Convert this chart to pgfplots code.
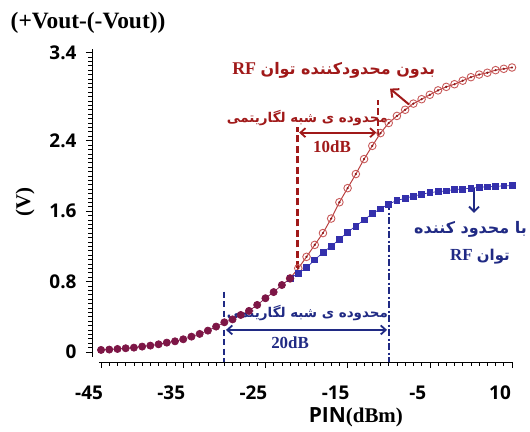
\documentclass[border=0pt]{standalone}
\usepackage{fontspec}
\usepackage{pgfplots}
\pgfplotsset{compat=1.18}
\usetikzlibrary{arrows.meta}
\setmainfont{Liberation Serif}
\newfontfamily\tickfont{Open Sans}
\newfontfamily\arabicfont[Script=Arabic]{DejaVu Sans}
\TeXXeTstate=1
\definecolor{maroonc}{RGB}{125,22,70}
\definecolor{redline}{RGB}{185,65,65}
\definecolor{redmark}{RGB}{200,90,90}
\definecolor{redfill}{RGB}{246,218,218}
\definecolor{reddot}{RGB}{140,25,25}
\definecolor{bluec}{RGB}{52,48,172}
\definecolor{darkred}{RGB}{160,25,25}
\definecolor{navyc}{RGB}{32,42,132}
\begin{document}
\begin{tikzpicture}
\begin{axis}[
 at={(0,0)}, anchor=south west,
 scale only axis, width=420bp, height=313bp,
 xmin=-46.1, xmax=5, ymin=-0.114, ymax=3.44,
 axis x line*=bottom, axis y line*=left,
 x axis line style={-, shorten <=7bp, line width=0.9pt},
 y axis line style={-, shorten <=5bp, line width=0.9pt},
 tick align=outside,
 major tick length=6bp, minor tick length=3.5bp,
 xtick={-45,-35,-25,-15,-5,5}, xticklabels={-45,-35,-25,-15,-5,10},
 minor xtick={-45,-44,...,5},
 ytick={0,0.8,1.6,2.4,3.4}, yticklabels={0,0.8,1.6,2.4,3.4},
 minor ytick={0,0.05,...,3.4},
 tick style={black, line width=0.6pt},
 ticklabel style={font=\tickfont\bfseries\fontsize{19}{19}\selectfont},
 xticklabel style={xshift=-12bp, yshift=-14bp},
 yticklabel style={xshift=-6bp},
 clip=false,
]
% red series (without limiter)
\addplot[redline, line width=1pt, mark=o, mark size=3.8bp, mark options={draw=redmark, fill=redfill, line width=0.9pt}] coordinates {
(-22,0.835)(-21,0.95)(-20,1.08)(-19,1.216)(-18,1.35)(-17,1.515)(-16,1.70)(-15,1.86)(-14,2.02)(-13,2.19)(-12,2.34)(-11,2.485)(-10,2.60)(-9,2.68)(-8,2.75)(-7,2.82)(-6,2.87)(-5,2.92)(-4,2.97)(-3,3.01)(-2,3.04)(-1,3.08)(0,3.12)(1,3.15)(2,3.17)(3,3.20)(4,3.215)(5,3.23)};
\addplot[only marks, mark=*, mark size=0.9bp, mark options={draw=reddot, fill=reddot}] coordinates {
(-21,0.95)(-20,1.08)(-19,1.216)(-18,1.35)(-17,1.515)(-16,1.70)(-15,1.86)(-14,2.02)(-13,2.19)(-12,2.34)(-11,2.485)(-10,2.60)(-9,2.68)(-8,2.75)(-7,2.82)(-6,2.87)(-5,2.92)(-4,2.97)(-3,3.01)(-2,3.04)(-1,3.08)(0,3.12)(1,3.15)(2,3.17)(3,3.20)(4,3.215)(5,3.23)};
% blue series (with limiter)
\addplot[bluec, line width=0.7pt, mark=square*, mark size=2.9bp, mark options={fill=bluec}] coordinates {
(-22,0.835)(-21,0.894)(-20,0.958)(-19,1.045)(-18,1.13)(-17,1.20)(-16,1.28)(-15,1.36)(-14,1.43)(-13,1.50)(-12,1.57)(-11,1.625)(-10,1.68)(-9,1.72)(-8,1.745)(-7,1.77)(-6,1.79)(-5,1.81)(-4,1.82)(-3,1.83)(-2,1.845)(-1,1.85)(0,1.86)(1,1.87)(2,1.875)(3,1.88)(4,1.886)(5,1.89)};
% shared low-power part
\addplot[maroonc, line width=0.7pt, mark=*, mark size=3.6bp, mark options={fill=maroonc}] coordinates {
(-45,0.023)(-44,0.027)(-43,0.034)(-42,0.042)(-41,0.049)(-40,0.061)(-39,0.072)(-38,0.087)(-37,0.106)(-36,0.121)(-35,0.144)(-34,0.174)(-33,0.205)(-32,0.242)(-31,0.288)(-30,0.337)(-29,0.37)(-28,0.42)(-27,0.466)(-26,0.534)(-25,0.61)(-24,0.68)(-23,0.76)(-22,0.835)};
% red annotations
\draw[darkred, line width=2.2pt, dash pattern=on 7bp off 3.5bp] (axis cs:-21.1,0.95) -- (axis cs:-21.1,2.55);
\draw[darkred, line width=2.2pt, dash pattern=on 7bp off 3.5bp] (axis cs:-11.35,2.45) -- (axis cs:-11.35,2.86);
\draw[darkred, line width=1.8pt, {Straight Barb[length=5bp,width=9bp]}-{Straight Barb[length=5bp,width=9bp]}] (axis cs:-20.9,2.49) -- (axis cs:-11.5,2.49);
\node[darkred, font=\bfseries\fontsize{17}{17}\selectfont] at (axis cs:-16.9,2.33) {10dB};
\node[darkred, inner sep=0pt] at (axis cs:-19.9,2.66) {\arabicfont\bfseries\fontsize{13.5}{13.5}\selectfont\beginR محدوده ی شبه لگاریتمی\endR};
\node[darkred, inner sep=0pt] at (axis cs:-16.7,3.20) {\bfseries\fontsize{18}{18}\selectfont RF \arabicfont\fontsize{16}{16}\selectfont\beginR بدون محدودکننده توان\endR};
\draw[darkred, line width=2pt, -{Straight Barb[length=6bp,width=11bp]}] (axis cs:-7.53,2.81) -- (axis cs:-9.84,2.99);
% blue annotations
\draw[navyc, line width=2pt, dash pattern=on 6bp off 3.5bp] (axis cs:-30,0.685) -- (axis cs:-30,-0.114);
\draw[navyc, line width=2pt, dash pattern=on 7bp off 2.5bp on 2bp off 2.5bp] (axis cs:-10,1.69) -- (axis cs:-10,-0.114);
\draw[navyc, line width=1.8pt, {Straight Barb[length=5bp,width=9bp]}-{Straight Barb[length=5bp,width=9bp]}] (axis cs:-29.8,0.25) -- (axis cs:-10.2,0.25);
\node[navyc, font=\bfseries\fontsize{17}{17}\selectfont] at (axis cs:-22,0.10) {20dB};
\node[navyc, inner sep=0pt] at (axis cs:-19.9,0.44) {\arabicfont\bfseries\fontsize{13.5}{13.5}\selectfont\beginR محدوده ی شبه لگاریتمی\endR};
\draw[navyc, line width=1.8pt, -{Straight Barb[length=5bp,width=10bp]}] (axis cs:0.38,1.86) -- (axis cs:0.38,1.58);
\node[navyc, inner sep=0pt] at (axis cs:-0.05,1.39) {\arabicfont\bfseries\fontsize{16}{16}\selectfont\beginR با محدود کننده\endR};
\node[navyc, inner sep=0pt] at (axis cs:1.1,1.08) {\bfseries\fontsize{17}{17}\selectfont RF \arabicfont\fontsize{15}{15}\selectfont\beginR توان\endR};
% axis titles
\node[font=\bfseries\fontsize{23.5}{23.5}\selectfont] at (axis cs:-46.58,3.74) {(+Vout-(-Vout))};
\node[font=\bfseries\fontsize{21}{21}\selectfont, rotate=90] at (axis cs:-54.25,1.70) {(V)};
\node[anchor=north, inner sep=0pt] at (axis cs:-14,-0.63) {\tickfont\bfseries\fontsize{21}{21}\selectfont PIN\rmfamily(dBm)};
\end{axis}
\pgfresetboundingbox
\path (-92bp,-70bp) rectangle (438bp,362bp);
\end{tikzpicture}
\end{document}
